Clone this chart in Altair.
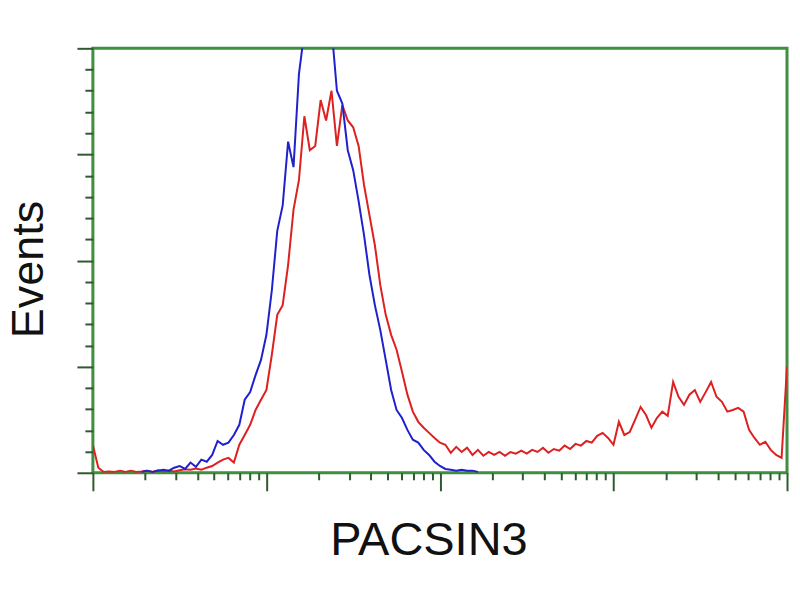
import math
import altair as alt
import pandas as pd

# Histogram channels (128 channels across 4 log decades)
red_start = 0
red_events = [6.5, 1.2, 0.2, 0.3, 0.2, 0.5, 0.2, 0.5, 0.2, 0.3,
              0.5, 0.2, 0.6, 0.3, 0.5, 0.3, 0.6, 0.8, 0.7, 1.0,
              0.7, 1.2, 1.6, 2.4, 3.1, 3.5, 2.4, 6.6, 8.9, 11.3,
              14.8, 17.2, 19.5, 27.8, 37.2, 39.5, 49, 62, 69, 84,
              76, 77, 87.8, 83, 90, 77, 86.6, 83, 81.4, 77,
              67.8, 60.7, 53.6, 44.2, 37.2, 32.5, 29, 23.8, 18.4, 14.4,
              12, 10.6, 9.4, 8.2, 7.1, 6.6, 4.7, 6.1, 4.9, 5.9,
              4.2, 5.4, 4.0, 4.9, 4.2, 4.9, 4.0, 4.9, 4.5, 5.2,
              4.5, 5.4, 4.9, 5.9, 4.7, 5.6, 5.2, 6.4, 5.6, 6.8,
              6.4, 7.5, 7.1, 8.7, 9.4, 8.2, 6.6, 12, 8.9, 9.6,
              12.5, 15.5, 13.6, 10.6, 12.9, 14.4, 13.4, 21.4, 17.9, 16,
              18.4, 19.5, 16.7, 19, 21.4, 17.9, 16.7, 14.4, 14.8, 15.3,
              14.4, 10.1, 8.2, 6.6, 7.3, 5.4, 4.2, 3.5, 25]

blue_start = 9
blue_events = [0.2, 0.5, 0.2, 0.5, 0.7, 0.5, 1.2, 1.6, 0.9, 2.4,
               1.4, 3.1, 2.6, 4.2, 7.5, 6.6, 7.1, 8.9, 11.3, 17.2,
               19, 23, 26.6, 32.5, 43, 57, 63, 78, 72, 94,
               104, 115, 118, 120, 115, 105, 90, 87, 76, 71.3,
               64, 56, 46.6, 39.5, 33.6, 26.6, 19.5, 14.8, 12.9, 10.1,
               7.8, 7.1, 5.4, 4.2, 2.6, 1.6, 0.9, 0.7, 0.5, 0.7,
               0.5, 0.5, 0.2]

red_df = pd.DataFrame({"channel": list(range(red_start, red_start + len(red_events))),
                       "events": red_events})
blue_df = pd.DataFrame({"channel": list(range(blue_start, blue_start + len(blue_events))),
                        "events": blue_events})

CH_PER_DECADE = 32
x_ticks = []
for d in range(4):
    x_ticks.append(d * CH_PER_DECADE)
    for k in range(2, 10):
        x_ticks.append(d * CH_PER_DECADE + CH_PER_DECADE * math.log10(k))
x_ticks.append(4 * CH_PER_DECADE)
y_ticks = list(range(0, 101, 5))

TICK = "#2f5a2f"
FRAME = "#3f8f3f"

x_enc = alt.X("channel:Q",
              scale=alt.Scale(domain=[0, 128], nice=False, zero=False),
              axis=alt.Axis(title="PACSIN3", values=x_ticks, labels=False, grid=False,
                            domain=False, tickColor=TICK, tickWidth=2,
                            tickSize={"condition": {"test": "datum.value % 32 === 0", "value": 18}, "value": 7},
                            titleFont="Liberation Sans", titleFontSize=47,
                            titleFontWeight="normal", titleColor="#111111",
                            titleX=336, titleY=82, titleBaseline="alphabetic",
                            titleAlign="center"))
y_enc = alt.Y("events:Q",
              scale=alt.Scale(domain=[0, 100], nice=False),
              axis=alt.Axis(title="Events", values=y_ticks, labels=False, grid=False,
                            domain=False, tickColor=TICK, tickWidth=2,
                            tickSize={"condition": {"test": "datum.value % 25 === 0", "value": 16}, "value": 8},
                            titleFont="Liberation Sans", titleFontSize=45,
                            titleFontWeight="normal", titleColor="#111111",
                            titleAngle=270, titleX=-50, titleY=221,
                            titleBaseline="alphabetic", titleAlign="center"))

red = alt.Chart(red_df).mark_line(color="#dd2020", strokeWidth=2, clip=True).encode(x=x_enc, y=y_enc)
blue = alt.Chart(blue_df).mark_line(color="#2020cc", strokeWidth=2, clip=True).encode(x=x_enc, y=y_enc)

chart = alt.layer(red, blue).properties(
    width=695, height=425,
    autosize=alt.AutoSizeParams(type="none"),
    padding={"left": 85, "top": 40, "right": 5, "bottom": 110},
    background="white",
).configure_view(stroke=FRAME, strokeWidth=3)

chart.save("out.html", embed_options={"renderer": "svg", "actions": False})
